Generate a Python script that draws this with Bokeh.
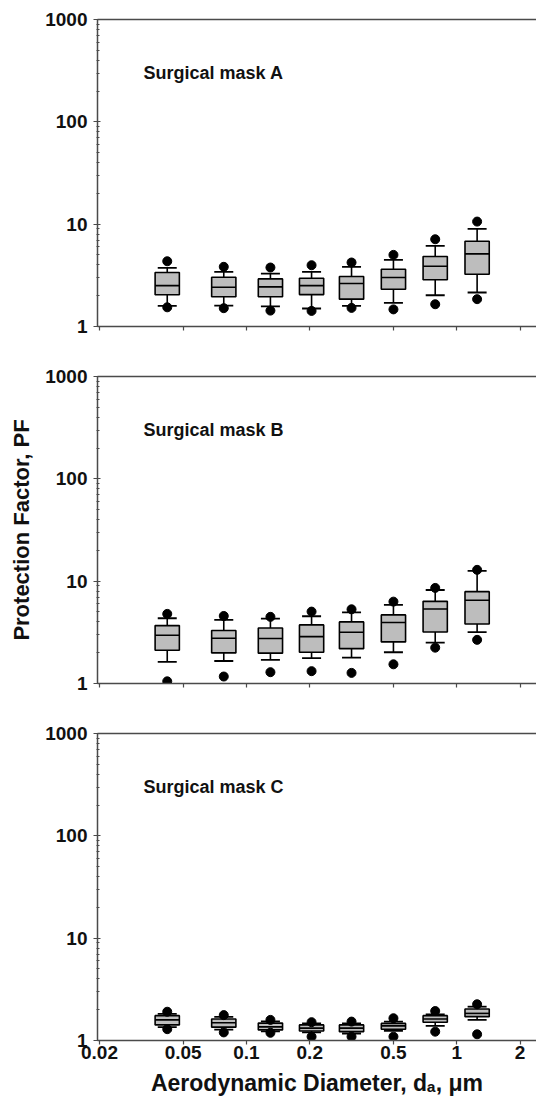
from bokeh.plotting import figure
from bokeh.models import FixedTicker, NumeralTickFormatter, LogAxis, ColumnDataSource
from bokeh.layouts import column
from bokeh.core.properties import value
from bokeh.embed import file_html
from bokeh.resources import INLINE

# ---------------- data ----------------
sizes = [0.042, 0.078, 0.13, 0.204, 0.316, 0.5, 0.79, 1.25]   # aerodynamic diameter, um
panel_titles = ["Surgical mask A", "Surgical mask B", "Surgical mask C"]

a_lo_dot = [1.54, 1.51, 1.43, 1.42, 1.52, 1.47, 1.65, 1.85]
a_lo_whisker = [1.59, 1.60, 1.57, 1.50, 1.59, 1.70, 2.02, 2.15]
a_q1 = [2.04, 1.95, 1.95, 2.05, 1.85, 2.31, 2.86, 3.24]
a_median = [2.51, 2.42, 2.44, 2.51, 2.63, 3.01, 3.88, 5.13]
a_q3 = [3.37, 3.03, 2.92, 2.96, 3.08, 3.63, 4.83, 6.81]
a_hi_whisker = [3.74, 3.42, 3.29, 3.42, 3.83, 4.48, 6.14, 9.0]
a_hi_dot = [4.34, 3.83, 3.77, 3.97, 4.22, 5.01, 7.12, 10.6]

b_lo_dot = [1.05, 1.17, 1.29, 1.32, 1.27, 1.54, 2.24, 2.67]
b_lo_whisker = [1.63, 1.66, 1.70, 1.77, 1.79, 2.02, 2.51, 3.17]
b_q1 = [2.11, 1.99, 1.98, 2.02, 2.19, 2.55, 3.19, 3.82]
b_median = [2.96, 2.77, 2.75, 2.87, 3.17, 3.94, 5.35, 6.50]
b_q3 = [3.68, 3.29, 3.49, 3.74, 4.00, 4.68, 6.35, 7.90]
b_hi_whisker = [4.34, 4.18, 4.31, 4.54, 4.96, 5.86, 8.20, 12.6]
b_hi_dot = [4.79, 4.57, 4.48, 5.04, 5.31, 6.31, 8.59, 12.9]

c_lo_dot = [1.29, 1.20, 1.19, 1.09, 1.09, 1.09, 1.22, 1.15]
c_lo_whisker = [1.35, 1.28, 1.23, 1.20, 1.17, 1.24, 1.39, 1.59]
c_q1 = [1.42, 1.35, 1.27, 1.24, 1.22, 1.29, 1.51, 1.71]
c_median = [1.59, 1.49, 1.36, 1.32, 1.32, 1.39, 1.62, 1.84]
c_q3 = [1.75, 1.62, 1.48, 1.42, 1.42, 1.47, 1.75, 2.03]
c_hi_whisker = [1.82, 1.70, 1.54, 1.47, 1.47, 1.53, 1.80, 2.14]
c_hi_dot = [1.91, 1.77, 1.59, 1.51, 1.53, 1.65, 1.94, 2.26]

x_ticks = [0.02, 0.05, 0.1, 0.2, 0.5, 1, 2]
y_ticks = [1, 10, 100, 1000]
x_label = "Aerodynamic Diameter, d\u2090, \u03bcm"
y_label = "Protection Factor, PF"

# ---------------- style ----------------
FONT = "Liberation Sans"
AXIS_COLOR = "#4a4a4a"
BOX_FILL = "#bdbdbd"
BOX_HALF = 1.142          # multiplicative half-width of a box on the log x axis
X_RANGE = (0.01957, 2.395)
Y_RANGE = (1, 1000)
TITLE_X = 0.0324
TITLE_Y = 300
y_minor = [m * d for d in (1, 10, 100) for m in range(2, 10)]


def make_panel(title, stats, height, b_top, b_bottom, show_x_labels, ylab):
    lo_dot, lo_w, q1, med, q3, hi_w, hi_dot = stats
    p = figure(width=536, height=height,
               x_axis_type="log", y_axis_type="log",
               x_range=X_RANGE, y_range=Y_RANGE,
               output_backend="svg", toolbar_location=None,
               min_border_left=97, min_border_right=0,
               min_border_top=b_top, min_border_bottom=b_bottom)
    p.outline_line_color = None
    p.grid.visible = False
    p.background_fill_color = "white"
    p.border_fill_color = "white"

    src = ColumnDataSource(dict(
        x=sizes,
        left=[s / BOX_HALF for s in sizes],
        right=[s * BOX_HALF for s in sizes],
        lo_dot=lo_dot, lo_w=lo_w, q1=q1, med=med, q3=q3, hi_w=hi_w, hi_dot=hi_dot,
    ))

    lw = 1.6
    p.segment(x0="x", y0="q3", x1="x", y1="hi_w", source=src, line_color="black", line_width=lw)
    p.segment(x0="x", y0="lo_w", x1="x", y1="q1", source=src, line_color="black", line_width=lw)
    p.quad(left="left", right="right", bottom="q1", top="q3", source=src,
           fill_color=BOX_FILL, line_color="black", line_width=lw)
    p.segment(x0="left", y0="med", x1="right", y1="med", source=src, line_color="black", line_width=lw)
    p.scatter(x="x", y="hi_w", source=src, marker="dash", size=19, line_color="black", line_width=1.8)
    p.scatter(x="x", y="lo_w", source=src, marker="dash", size=19, line_color="black", line_width=1.8)
    p.scatter(x="x", y="hi_dot", source=src, marker="circle", size=9, fill_color="black", line_color="black")
    p.scatter(x="x", y="lo_dot", source=src, marker="circle", size=9, fill_color="black", line_color="black")

    p.text(x=[TITLE_X], y=[TITLE_Y], text=[title], text_font=value(FONT), text_font_style="bold",
           text_font_size="18px", text_baseline="middle", text_align="left", text_color="#111111")

    # x axis
    xa = p.xaxis[0]
    xa.ticker = FixedTicker(ticks=x_ticks, minor_ticks=[])
    xa.formatter = NumeralTickFormatter(format="0.[00]")
    xa.axis_line_color = AXIS_COLOR
    xa.axis_line_width = 1.5
    xa.major_tick_line_color = AXIS_COLOR
    xa.major_tick_line_width = 1.2
    xa.major_tick_in = 0
    xa.major_tick_out = 4
    xa.minor_tick_line_color = None
    xa.major_label_standoff = 1
    xa.major_label_text_font = FONT
    xa.major_label_text_font_style = "bold"
    xa.major_label_text_font_size = "19px"
    if show_x_labels:
        xa.major_label_text_color = "#111111"
        xa.axis_label = x_label
        xa.axis_label_text_font = FONT
        xa.axis_label_text_font_style = "bold"
        xa.axis_label_text_font_size = "23px"
        xa.axis_label_text_color = "#111111"
        xa.axis_label_standoff = 8
    else:
        xa.major_label_text_color = None

    # y axis
    ya = p.yaxis[0]
    ya.ticker = FixedTicker(ticks=y_ticks, minor_ticks=y_minor)
    ya.formatter = NumeralTickFormatter(format="0")
    ya.axis_line_color = AXIS_COLOR
    ya.axis_line_width = 1.5
    ya.major_tick_line_color = AXIS_COLOR
    ya.minor_tick_line_color = AXIS_COLOR
    ya.major_tick_line_width = 1.2
    ya.minor_tick_line_width = 1
    ya.major_tick_in = 3
    ya.major_tick_out = 4
    ya.minor_tick_in = 2
    ya.minor_tick_out = 1
    ya.major_label_standoff = 6
    ya.major_label_text_font = FONT
    ya.major_label_text_font_style = "bold"
    ya.major_label_text_font_size = "19px"
    ya.major_label_text_color = "#111111"
    if ylab:
        ya.axis_label = ylab
        ya.axis_label_text_font = FONT
        ya.axis_label_text_font_style = "bold"
        ya.axis_label_text_font_size = "22px"
        ya.axis_label_text_color = "#111111"
        ya.axis_label_standoff = 8

    # top frame line
    top = LogAxis(ticker=FixedTicker(ticks=[], minor_ticks=[]),
                  major_label_text_color=None,
                  axis_line_color=AXIS_COLOR, axis_line_width=1.5,
                  major_tick_line_color=None, minor_tick_line_color=None)
    p.add_layout(top, "above")
    return p


pa = make_panel(panel_titles[0],
                (a_lo_dot, a_lo_whisker, a_q1, a_median, a_q3, a_hi_whisker, a_hi_dot),
                350, 19, 24, False, None)
pb = make_panel(panel_titles[1],
                (b_lo_dot, b_lo_whisker, b_q1, b_median, b_q3, b_hi_whisker, b_hi_dot),
                357, 26, 24, False, y_label)
pc = make_panel(panel_titles[2],
                (c_lo_dot, c_lo_whisker, c_q1, c_median, c_q3, c_hi_whisker, c_hi_dot),
                391, 26, 58, True, None)

layout = column(pa, pb, pc, spacing=0)
open("out.html", "w").write(file_html(layout, INLINE))
